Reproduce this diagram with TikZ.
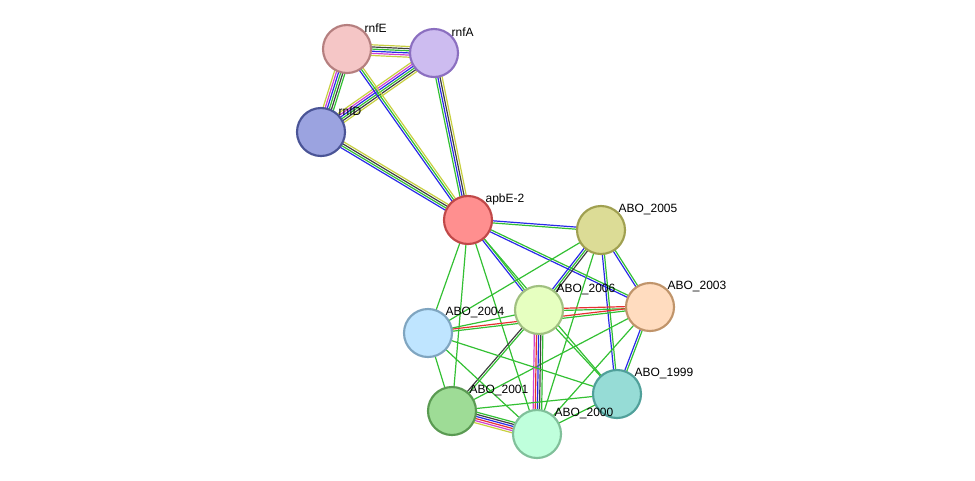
\documentclass[tikz,border=0pt]{standalone}
\usepackage{fontspec}
\setmainfont{Liberation Sans}
\usetikzlibrary{calc,backgrounds}

\definecolor{sgreen}{HTML}{33C033}
\definecolor{sblue}{HTML}{2A2AE8}
\definecolor{syellow}{HTML}{C8D040}
\definecolor{smag}{HTML}{D040D0}
\definecolor{sred}{HTML}{E83030}
\definecolor{sblack}{HTML}{404040}

\tikzset{
  prot/.style={circle,minimum size=36,inner sep=0,line width=1.6pt},
  lbl/.style={font=\fontsize{9}{10}\selectfont,anchor=west,inner sep=1pt},
  link/.style={line width=0.9pt}
}

% multi-coloured edge: from, to, number of lines, colours
\newcommand\strlink[4]{%
  \foreach \c [count=\i] in {#4}{%
    \pgfmathsetmacro\off{(\i-(#3+1)/2)*1.6}
    \draw[link,\c] ($(#1.center)!\off pt!90:(#2.center)$) -- ($(#2.center)!\off pt!-90:(#1.center)$);
  }}

\begin{document}
\begin{tikzpicture}[x=0.75pt,y=-0.75pt]
\useasboundingbox (0,0) rectangle (975,480);

% proteins
\node[prot,fill={rgb,255:red,245;green,198;blue,198},draw={rgb,255:red,181;green,127;blue,127}] (rnfE) at (347,49) {};
\node[prot,fill={rgb,255:red,205;green,188;blue,240},draw={rgb,255:red,139;green,111;blue,192}] (rnfA) at (434,53) {};
\node[prot,fill={rgb,255:red,155;green,163;blue,224},draw={rgb,255:red,74;green,84;blue,150}] (rnfD) at (321,132) {};
\node[prot,fill={rgb,255:red,255;green,143;blue,143},draw={rgb,255:red,192;green,72;blue,72}] (apbE) at (468,220) {};
\node[prot,fill={rgb,255:red,220;green,220;blue,150},draw={rgb,255:red,160;green,160;blue,80}] (a2005) at (601,230) {};
\node[prot,fill={rgb,255:red,255;green,220;blue,191},draw={rgb,255:red,192;green,148;blue,106}] (a2003) at (650,307) {};
\node[prot,fill={rgb,255:red,230;green,255;blue,192},draw={rgb,255:red,160;green,192;blue,128}] (a2006) at (539,310) {};
\node[prot,fill={rgb,255:red,191;green,229;blue,255},draw={rgb,255:red,127;green,165;blue,192}] (a2004) at (428,333) {};
\node[prot,fill={rgb,255:red,150;green,220;blue,214},draw={rgb,255:red,80;green,160;blue,154}] (a1999) at (617,394) {};
\node[prot,fill={rgb,255:red,158;green,220;blue,150},draw={rgb,255:red,90;green,154;blue,82}] (a2001) at (452,411) {};
\node[prot,fill={rgb,255:red,191;green,255;blue,220},draw={rgb,255:red,128;green,192;blue,154}] (a2000) at (537,434) {};

% labels
\node[lbl] at ($(rnfE)+(16,-21)$) {rnfE};
\node[lbl] at ($(rnfA)+(16,-21)$) {rnfA};
\node[lbl] at ($(rnfD)+(16,-21)$) {rnfD};
\node[lbl] at ($(apbE)+(16,-21)$) {apbE-2};
\node[lbl] at ($(a2005)+(16,-21)$) {ABO\_2005};
\node[lbl] at ($(a2003)+(16,-21)$) {ABO\_2003};
\node[lbl] at ($(a2006)+(16,-21)$) {ABO\_2006};
\node[lbl] at ($(a2004)+(16,-21)$) {ABO\_2004};
\node[lbl] at ($(a1999)+(16,-21)$) {ABO\_1999};
\node[lbl] at ($(a2001)+(16,-21)$) {ABO\_2001};
\node[lbl] at ($(a2000)+(16,-21)$) {ABO\_2000};

\begin{scope}[on background layer]
\strlink{rnfE}{rnfA}{6}{syellow,smag,sblue,sgreen,sblack,syellow}
\strlink{rnfE}{rnfD}{6}{syellow,smag,sblue,sgreen,sblack,sgreen}
\strlink{rnfA}{rnfD}{6}{syellow,smag,sblue,sgreen,sblack,syellow}
\strlink{rnfE}{apbE}{3}{sblue,sgreen,syellow}
\strlink{rnfA}{apbE}{4}{sgreen,sblue,sblack,syellow}
\strlink{rnfD}{apbE}{4}{sblue,sgreen,sblack,syellow}
\strlink{apbE}{a2005}{2}{sgreen,sblue}
\strlink{apbE}{a2003}{2}{sblue,sgreen}
\strlink{apbE}{a2006}{2}{sblue,sgreen}
\strlink{apbE}{a2004}{1}{sgreen}
\strlink{apbE}{a2001}{1}{sgreen}
\strlink{apbE}{a2000}{1}{sgreen}
\strlink{apbE}{a1999}{1}{sgreen}
\strlink{a2005}{a2006}{3}{sblue,sgreen,sblack}
\strlink{a2005}{a2003}{2}{sblue,sgreen}
\strlink{a2005}{a1999}{2}{sblue,sgreen}
\strlink{a2005}{a2004}{1}{sgreen}
\strlink{a2005}{a2000}{1}{sgreen}
\strlink{a2003}{a2006}{2}{sred,sgreen}
\strlink{a2003}{a1999}{2}{sblue,sgreen}
\strlink{a2003}{a2004}{2}{sred,sgreen}
\strlink{a2003}{a2001}{1}{sgreen}
\strlink{a2003}{a2000}{1}{sgreen}
\strlink{a2006}{a2004}{1}{sgreen}
\strlink{a2006}{a2001}{2}{sblack,sgreen}
\strlink{a2006}{a2000}{5}{smag,sred,sblue,sblack,sgreen}
\strlink{a2006}{a1999}{1}{sgreen}
\strlink{a2004}{a2001}{1}{sgreen}
\strlink{a2004}{a2000}{1}{sgreen}
\strlink{a2004}{a1999}{1}{sgreen}
\strlink{a2001}{a2000}{6}{syellow,smag,sred,sblue,sblack,sgreen}
\strlink{a2001}{a1999}{1}{sgreen}
\strlink{a2000}{a1999}{1}{sgreen}
\end{scope}
\end{tikzpicture}
\end{document}
